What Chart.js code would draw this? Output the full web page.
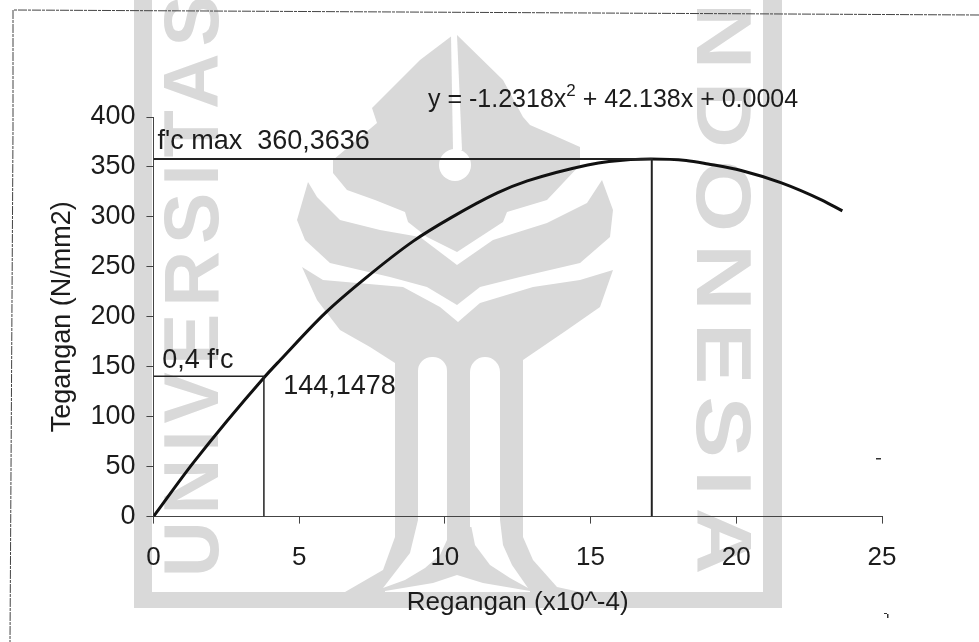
<!DOCTYPE html>
<html>
<head>
<meta charset="utf-8">
<style>
  html, body { margin: 0; padding: 0; background: #fff; }
  #wrap { width: 979px; height: 642px; }
</style>
</head>
<body>
<div id="wrap"><canvas id="myChart" width="979" height="642"></canvas></div>
<script src="https://cdn.jsdelivr.net/npm/chart.js@4"></script>
<script>
// values
const strain = [0, 1.37, 3.79, 4.36, 5.9, 7.33, 8.93, 10.2, 11.8, 12.83, 14.9, 15.63, 17.07, 18.28, 19.03, 20.17, 21.55, 22.92, 23.64];
const stress = [0, 54, 139, 157, 204, 240, 276, 299, 324, 336, 352, 355.5, 358, 356.5, 353, 346.5, 334, 317, 306];

const peakX = [0, 17.1, 17.1];
const peakY = [358, 358, 0];
const limitX = [0, 3.79, 3.79];
const limitY = [140.6, 140.6, 0];

const labelText = ["f'c max  360,3636", "0,4 f'c", "144,1478"];
const labelX = [0.14, 0.3, 4.45];
const labelY = [368, 149, 123];

const eqLeft = "y = -1.2318x";
const eqPow = "2";
const eqRight = " + 42.138x + 0.0004";

const xTitle = "Regangan (x10^-4)";
const yTitle = "Tegangan (N/mm2)";

const ink = "#1c1c1c";
const font = "Liberation Sans";

function xy(xs, ys) {
  return xs.map(function (x, i) { return { x: x, y: ys[i] }; });
}

function poly(ctx, pts, color) {
  ctx.fillStyle = color;
  ctx.beginPath();
  pts.forEach(function (p, i) {
    if (i === 0) ctx.moveTo(p[0], p[1]);
    else ctx.lineTo(p[0], p[1]);
  });
  ctx.closePath();
  ctx.fill();
}

// faded stamp behind the chart
const stamp = {
  id: "stamp",
  beforeDraw: function (chart) {
    const ctx = chart.ctx;
    const g = "#d9d9d9";
    ctx.save();
    ctx.fillStyle = "#fff";
    ctx.fillRect(0, 0, 979, 642);

    ctx.fillStyle = g;
    ctx.fillRect(134, 0, 18, 608);
    ctx.fillRect(763, 0, 19, 608);
    ctx.fillRect(134, 592, 648, 16);

    // roof
    poly(ctx, [[453, 35], [420, 60], [372, 108], [377, 123], [333, 160], [333, 173], [347, 190], [375, 200], [405, 212], [408, 222], [427, 237], [457, 252], [503, 222], [507, 212], [547, 200], [580, 165], [580, 147], [553, 135], [530, 125], [523, 117], [503, 80], [457, 35]], g);
    // middle layer
    poly(ctx, [[308, 182], [317, 197], [340, 220], [380, 230], [420, 237], [457, 265], [493, 240], [547, 223], [587, 203], [602, 180], [613, 210], [610, 237], [580, 263], [520, 277], [480, 287], [457, 305], [427, 287], [390, 277], [330, 263], [305, 240], [297, 220]], g);
    // lower layer and pillars
    poly(ctx, [[302, 267], [323, 280], [403, 287], [440, 307], [458, 322], [480, 303], [533, 287], [580, 280], [613, 270], [600, 307], [567, 330], [523, 360], [523, 537], [533, 560], [557, 587], [580, 592], [345, 592], [383, 570], [395, 537], [395, 363], [370, 347], [340, 330], [317, 300]], g);

    // gaps between the pillars
    ctx.fillStyle = "#fff";
    ctx.beginPath();
    ctx.roundRect(418, 357, 29, 170, [14, 14, 0, 0]);
    ctx.roundRect(470, 357, 30, 170, [15, 15, 0, 0]);
    ctx.fill();
    poly(ctx, [[418, 520], [410, 553], [383, 588], [405, 580], [425, 568], [440, 555], [447, 540], [447, 520]], "#fff");
    poly(ctx, [[470, 520], [475, 545], [490, 565], [510, 578], [528, 588], [512, 565], [503, 545], [500, 520]], "#fff");
    poly(ctx, [[385, 591], [433, 583], [457, 575], [483, 583], [530, 591], [530, 592], [385, 592]], "#fff");

    // keyhole in the roof
    poly(ctx, [[451, 35], [457, 35], [462, 150], [453, 150]], "#fff");
    ctx.beginPath();
    ctx.arc(455, 165, 16, 0, Math.PI * 2);
    ctx.fill();

    // rotated lettering
    ctx.fillStyle = g;
    ctx.font = "bold 77px '" + font + "'";
    ctx.textAlign = "left";
    ctx.textBaseline = "alphabetic";
    ctx.save();
    ctx.translate(218, 577);
    ctx.rotate(-Math.PI / 2);
    ctx.letterSpacing = "7px";
    ctx.fillText("UNIVERSITAS", 0, 0);
    ctx.restore();
    ctx.save();
    ctx.translate(697, -35);
    ctx.rotate(Math.PI / 2);
    ctx.scale(1.2, 1);
    ctx.letterSpacing = "10px";
    ctx.fillText("INDONESIA", 0, 0);
    ctx.restore();

    // scanned page frame
    ctx.strokeStyle = "#444";
    ctx.lineWidth = 1;
    ctx.setLineDash([9, 1, 3, 1]);
    ctx.beginPath();
    ctx.moveTo(979, 15);
    ctx.lineTo(13, 10);
    ctx.lineTo(13, 130);
    ctx.lineTo(10, 642);
    ctx.stroke();
    ctx.setLineDash([]);

    // specks
    ctx.fillStyle = "#333";
    ctx.fillRect(876, 458, 5, 1.5);
    ctx.fillRect(884, 613, 3, 1);
    ctx.fillRect(887, 614, 1.5, 4);
    ctx.restore();
  },
  afterDraw: function (chart) {
    const ctx = chart.ctx;
    const xs = chart.scales.x;
    const ys = chart.scales.y;
    ctx.save();
    ctx.fillStyle = ink;
    ctx.font = "27px '" + font + "'";
    ctx.textBaseline = "alphabetic";
    ctx.textAlign = "left";
    labelText.forEach(function (t, i) {
      ctx.fillText(t, xs.getPixelForValue(labelX[i]), ys.getPixelForValue(labelY[i]));
    });

    // trendline equation with its raised 2
    let px = 428;
    const base = 107;
    ctx.font = "25px '" + font + "'";
    ctx.fillText(eqLeft, px, base);
    px += ctx.measureText(eqLeft).width;
    ctx.font = "17px '" + font + "'";
    ctx.fillText(eqPow, px, base - 11);
    px += ctx.measureText(eqPow).width;
    ctx.font = "25px '" + font + "'";
    ctx.fillText(eqRight, px, base);
    ctx.restore();
  },
};

const ctx = document.getElementById("myChart");

var chart = new Chart(ctx, {
  type: "scatter",
  data: {
    datasets: [
      {
        label: "limit",
        data: xy(limitX, limitY),
        showLine: true,
        borderColor: "#222",
        borderWidth: 1.5,
        pointRadius: 0,
      },
      {
        label: "peak",
        data: xy(peakX, peakY),
        showLine: true,
        borderColor: "#222",
        borderWidth: 2,
        pointRadius: 0,
      },
      {
        label: "curve",
        data: xy(strain, stress),
        showLine: true,
        borderColor: "#111",
        borderWidth: 3,
        cubicInterpolationMode: "monotone",
        pointRadius: 0,
      },
    ],
  },
  options: {
    responsive: false,
    animation: false,
    layout: {
      padding: { left: 46, right: 97, top: 117, bottom: 24 },
    },
    plugins: {
      legend: { display: false },
      tooltip: { enabled: false },
    },
    scales: {
      x: {
        type: "linear",
        min: 0,
        max: 25,
        ticks: {
          stepSize: 5,
          maxRotation: 0,
          color: ink,
          padding: 19,
          font: { family: font, size: 26 },
        },
        grid: { drawOnChartArea: false, tickLength: 7, color: "#444" },
        border: { color: "#444", width: 1 },
        title: {
          display: true,
          text: xTitle,
          color: ink,
          padding: { top: -6, bottom: 0 },
          font: { family: font, size: 26 },
        },
      },
      y: {
        min: 0,
        max: 400,
        ticks: {
          stepSize: 50,
          color: ink,
          padding: 11,
          font: { family: font, size: 27 },
        },
        grid: { drawOnChartArea: false, tickLength: 7, color: "#444" },
        border: { color: "#444", width: 1 },
        title: {
          display: true,
          text: yTitle,
          color: ink,
          padding: { top: 0, bottom: 1 },
          font: { family: font, size: 27 },
        },
      },
    },
  },
  plugins: [stamp],
});
</script>
</body>
</html>
